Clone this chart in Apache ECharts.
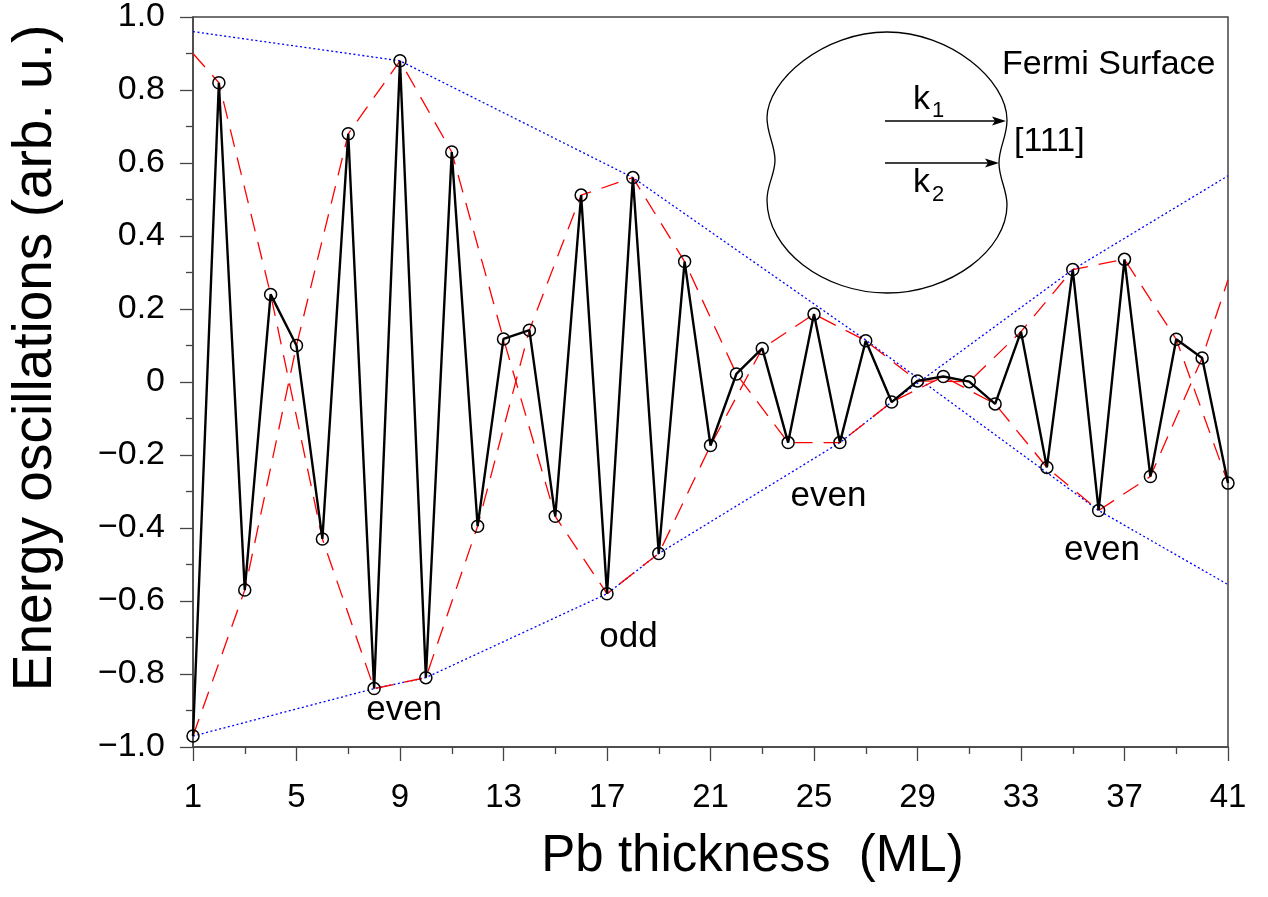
<!DOCTYPE html>
<html><head><meta charset="utf-8">
<style>html,body{margin:0;padding:0;background:#fff}#c{width:1268px;height:897px}</style>
<script src="https://cdn.jsdelivr.net/npm/echarts@6/dist/echarts.min.js"></script>
</head><body><div id="c"></div>
<script>
// ---- data ----
const thickness = [1,2,3,4,5,6,7,8,9,10,11,12,13,14,15,16,17,18,19,20,21,22,23,24,25,26,27,28,29,30,31,32,33,34,35,36,37,38,39,40,41];
const energy = [-0.97,0.82,-0.57,0.24,0.10,-0.43,0.68,-0.84,0.88,-0.81,0.63,-0.395,0.118,0.142,-0.368,0.512,-0.58,0.56,-0.47,0.33,-0.174,0.022,0.092,-0.166,0.186,-0.166,0.113,-0.055,0.003,0.015,0.001,-0.06,0.138,-0.234,0.308,-0.352,0.336,-0.259,0.117,0.066,-0.277];

const oddBeatX = [1,3,5,7,9,11,13,15,17,19,21,23,25,27,29,31,33,35,37,39,41];
const oddBeatY = [-0.97,-0.57,0.10,0.68,0.88,0.63,0.118,-0.368,-0.58,-0.47,-0.174,0.092,0.186,0.113,0.003,0.001,0.138,0.308,0.336,0.117,-0.277];

const evenBeatX = [1,2,4,6,8,10,12,14,16,18,20,22,24,26,28,30,32,34,36,38,40,41];
const evenBeatY = [0.90,0.82,0.24,-0.43,-0.84,-0.81,-0.395,0.142,0.512,0.56,0.33,0.022,-0.166,-0.166,-0.055,0.015,-0.06,-0.234,-0.352,-0.259,0.066,0.28];

const upperEnvX = [1,9,18,27,36,41];
const upperEnvY = [0.96,0.88,0.56,0.115,-0.352,-0.555];
const lowerEnvX = [1,8,10,17,19,26,28,35,41];
const lowerEnvY = [-0.97,-0.84,-0.81,-0.58,-0.47,-0.166,-0.055,0.308,0.565];

const noteText = ['even','odd','even','even'];
const noteX = [9.16,17.83,25.56,36.13];
const noteY = [-0.899,-0.70,-0.313,-0.461];

const xTickLabels = ['1','5','9','13','17','21','25','29','33','37','41'];

// ---- helpers ----
const zip = (xs, ys) => xs.map((x, i) => [x, ys[i]]);
const FONT = 'Liberation Sans';

const chart = echarts.init(document.getElementById('c'), null, {renderer: 'canvas'});

// Fermi surface inset (decorative drawing, pixel space)
const fs = [
  [887,32, 950,32, 1007,80, 1007,120],
  [1007,120, 1007,137, 999,147, 999,163],
  [999,163, 999,179, 1007,189, 1007,205],
  [1007,205, 1007,250, 950,293, 887,293],
  [887,293, 824,293, 767,250, 767,200],
  [767,200, 767,184, 775,175, 775,160],
  [775,160, 775,145, 767,134, 767,118],
  [767,118, 767,80, 824,32, 887,32]
];
const graphics = fs.map(s => ({
  type: 'bezierCurve', silent: true,
  shape: {x1: s[0], y1: s[1], cpx1: s[2], cpy1: s[3], cpx2: s[4], cpy2: s[5], x2: s[6], y2: s[7]},
  style: {stroke: '#000', lineWidth: 1.3, fill: null}
}));
graphics.push(
  {type: 'line', shape: {x1: 885, y1: 121, x2: 998, y2: 121}, style: {stroke: '#000', lineWidth: 1.4}},
  {type: 'polygon', shape: {points: [[1006,121],[992,116.5],[995,121],[992,125.5]]}, style: {fill: '#000'}},
  {type: 'line', shape: {x1: 885, y1: 163, x2: 991, y2: 163}, style: {stroke: '#000', lineWidth: 1.4}},
  {type: 'polygon', shape: {points: [[999,163],[985,158.5],[988,163],[985,167.5]]}, style: {fill: '#000'}},
  {type: 'text', x: 1002, y: 65, style: {text: 'Fermi Surface', font: '34px "' + FONT + '"', fill: '#000', textVerticalAlign: 'middle'}},
  {type: 'text', x: 1014, y: 142, style: {text: '[111]', font: '34px "' + FONT + '"', fill: '#000', textVerticalAlign: 'middle'}},
  {type: 'text', x: 913, y: 100, style: {text: 'k', font: '34px "' + FONT + '"', fill: '#000', textVerticalAlign: 'middle'}},
  {type: 'text', x: 932, y: 111, style: {text: '1', font: '22px "' + FONT + '"', fill: '#000', textVerticalAlign: 'middle'}},
  {type: 'text', x: 913, y: 183, style: {text: 'k', font: '34px "' + FONT + '"', fill: '#000', textVerticalAlign: 'middle'}},
  {type: 'text', x: 932, y: 195, style: {text: '2', font: '22px "' + FONT + '"', fill: '#000', textVerticalAlign: 'middle'}}
);

const axisColor = '#444';

const option = {
  animation: false,
  backgroundColor: '#fff',
  textStyle: {fontFamily: FONT},
  grid: {left: 192, right: 40, top: 16, bottom: 150, show: true, borderColor: axisColor, borderWidth: 1.5, containLabel: false},
  xAxis: {
    type: 'value', min: 1, max: 41, interval: 4,
    name: 'Pb thickness  (ML)', nameLocation: 'middle', nameGap: 84,
    nameTextStyle: {fontSize: 51, color: '#000', fontFamily: FONT, padding: [0, 0, 0, 84]},
    axisLine: {show: true, onZero: false, lineStyle: {color: axisColor, width: 1.5}},
    axisTick: {show: true, inside: false, length: 14, lineStyle: {color: axisColor, width: 1.3}},
    minorTick: {show: true, splitNumber: 2, length: 7, lineStyle: {color: axisColor, width: 1.3}},
    splitLine: {show: false}, minorSplitLine: {show: false},
    axisLabel: {fontSize: 33, color: '#000', margin: 34, fontFamily: FONT,
      formatter: v => xTickLabels.includes(String(Math.round(v))) ? String(Math.round(v)) : ''}
  },
  yAxis: {
    type: 'value', min: -1, max: 1, interval: 0.2,
    name: 'Energy oscillations (arb. u.)', nameLocation: 'middle', nameGap: 130, nameRotate: 90,
    nameTextStyle: {fontSize: 55, color: '#000', fontFamily: FONT, padding: [0, 0, 0, 48]},
    axisLine: {show: true, onZero: false, lineStyle: {color: axisColor, width: 1.5}},
    axisTick: {show: true, inside: false, length: 13, lineStyle: {color: axisColor, width: 1.3}},
    minorTick: {show: true, splitNumber: 2, length: 7, lineStyle: {color: axisColor, width: 1.3}},
    splitLine: {show: false}, minorSplitLine: {show: false},
    axisLabel: {fontSize: 34, color: '#000', margin: 28, fontFamily: FONT,
      formatter: v => Math.abs(v) < 1e-9 ? '0' : (v < 0 ? '\u2212' : '') + Math.abs(v).toFixed(1)}
  },
  series: [
    {type: 'line', data: zip(upperEnvX, upperEnvY), showSymbol: false, symbol: 'none', z: 1,
      lineStyle: {color: '#0000ff', width: 1.3, type: [2, 2.5]}},
    {type: 'line', data: zip(lowerEnvX, lowerEnvY), showSymbol: false, symbol: 'none', z: 1,
      lineStyle: {color: '#0000ff', width: 1.3, type: [2, 2.5]}},
    {type: 'line', data: zip(oddBeatX, oddBeatY), showSymbol: false, symbol: 'none', z: 2,
      lineStyle: {color: '#ff0000', width: 1.3, type: [18, 11]}},
    {type: 'line', data: zip(evenBeatX, evenBeatY), showSymbol: false, symbol: 'none', z: 2,
      lineStyle: {color: '#ff0000', width: 1.3, type: [18, 11]}},
    {type: 'line', data: zip(thickness, energy), z: 3,
      symbol: 'circle', symbolSize: 12, showSymbol: true,
      lineStyle: {color: '#000', width: 2.4},
      itemStyle: {color: 'rgba(0,0,0,0)', borderColor: '#000', borderWidth: 1.5}},
    {type: 'scatter', z: 4, symbolSize: 0, itemStyle: {color: '#000', opacity: 1},
      data: noteText.map((t, i) => ({name: t, value: [noteX[i], noteY[i]]})),
      label: {show: true, position: 'inside', formatter: '{b}', fontSize: 35, color: '#000', opacity: 1,
        textBorderWidth: 0, fontFamily: FONT}}
  ],
  graphic: graphics
};
chart.setOption(option);
</script>
</body></html>
